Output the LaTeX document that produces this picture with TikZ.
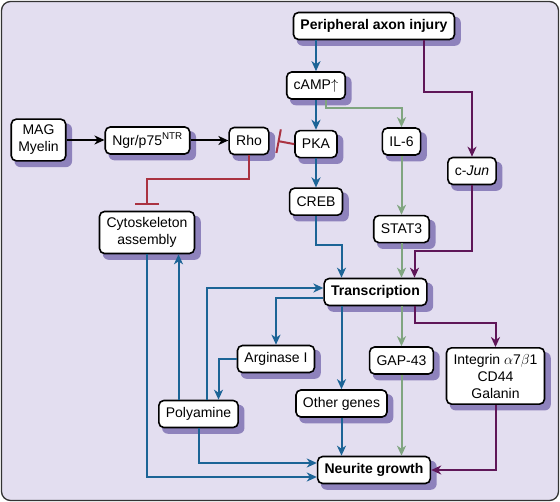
\documentclass[tikz,border=0pt]{standalone}
\usepackage{fontspec}
\setmainfont{Liberation Sans}
\usepackage{tikz}
\usetikzlibrary{arrows.meta,positioning,backgrounds}
\definecolor{panel}{RGB}{227,222,240}
\definecolor{boxshadow}{RGB}{142,130,188}
\definecolor{cablue}{RGB}{28,100,150}
\definecolor{sage}{RGB}{128,165,128}
\definecolor{plum}{RGB}{95,22,88}
\definecolor{inhib}{RGB}{170,50,65}

\begin{document}
\begin{tikzpicture}[x=1pt, y=1pt, >={Stealth[length=10pt,width=9pt,inset=3pt]},
  box/.style={draw, line width=1.6pt, rounded corners=5pt, fill=white, align=center, inner xsep=7pt, inner ysep=6pt, minimum height=27pt, font=\fontsize{14}{17}\selectfont},
  head/.style={box, font=\fontsize{14}{17}\selectfont\bfseries},
  link/.style={line width=2pt}]
\useasboundingbox (0,0) rectangle (560,-502);

\node[head] (inj) at (374,-26) {Peripheral axon injury};
\node[box] (camp) at (316,-85.5) {cAMP$\uparrow$};
\node[box, below=30pt of camp] (pka) {PKA};
\node[box, below=29pt of pka] (creb) {CREB};
\node[box] (il6) at (401.5,-141.5) {IL-6};
\node[box, below=59pt of il6] (stat) {STAT3};
\node[box] (cjun) at (472,-171) {c-\textit{Jun}};
\node[box] (mag) at (38.5,-140) {MAG\\Myelin};
\node[box] (ngr) at (147.5,-140.5) {Ngr/p75\textsuperscript{NTR}};
\node[box] (rho) at (249,-141) {Rho};
\node[box] (cyto) at (147,-232.5) {Cytoskeleton\\assembly};
\node[head] (trans) at (375.5,-292) {Transcription};
\node[box] (arg) at (276,-359) {Arginase I};
\node[box] (gap) at (401.5,-360.5) {GAP-43};
\node[box] (integ) at (495.5,-376) {Integrin $\alpha$7$\beta$1\\CD44\\Galanin};
\node[box] (poly) at (198.5,-414) {Polyamine};
\node[box] (other) at (341.5,-403.5) {Other genes};
\node[head] (neur) at (374,-470) {Neurite growth};

\begin{scope}[on background layer]
\draw[rounded corners=9pt, fill=panel, draw=black!80, line width=1.3pt] (1.5,-1.5) rectangle (558.5,-500.5);
\foreach \n in {inj,camp,pka,creb,il6,stat,cjun,mag,ngr,rho,cyto,trans,arg,gap,integ,poly,other,neur}
  \fill[boxshadow, rounded corners=6pt] ([shift={(4pt,-5.5pt)}]\n.south west) rectangle ([shift={(5.5pt,-5pt)}]\n.north east);
\end{scope}

\draw[link, cablue, ->] (inj.south -| camp.north) -- (camp.north);
\draw[link, plum, ->] ([xshift=50pt]inj.south) -- ++(0,-52) -| (cjun.north);
\draw[link, cablue, ->] (camp) -- (pka);
\draw[link, sage, ->] ([xshift=10pt]camp.south) -- ++(0,-8) -| (il6.north);
\draw[link, inhib, -{Bar[width=24pt]}] (pka.west) -- ([xshift=8pt]rho.east);
\draw[link, inhib, -{Bar[width=24pt]}] (rho.south) -- ++(0,-24) -| ([yshift=6pt]cyto.north);
\draw[link, ->] (mag.east) -- (mag.east -| ngr.west);
\draw[link, ->] (ngr.east) -- (ngr.east -| rho.west);
\draw[link, cablue, ->] (pka) -- (creb);
\draw[link, cablue, ->] (creb.south) -- ++(0,-29) -| (trans.north -| other.north);
\draw[link, sage, ->] (il6) -- (stat);
\draw[link, sage, ->] (stat.south) -- (stat.south |- trans.north);
\draw[link, plum, ->] (cjun.south) -- ++(0,-66) -| ([xshift=39pt]trans.north);
\draw[link, cablue, ->] ([yshift=-6pt]trans.west) -| (arg.north);
\draw[link, cablue, ->] (arg.west) -| ([xshift=20pt]poly.north);
\draw[link, cablue, ->] ([xshift=8pt]poly.north) |- ([yshift=4pt]trans.west);
\draw[link, cablue, ->] ([xshift=-20pt]poly.north) -- ([xshift=-20pt]poly.north |- cyto.south);
\draw[link, cablue, ->] (cyto.south) |- ([yshift=-7pt]neur.west);
\draw[link, cablue, ->] (poly.south) |- ([yshift=7pt]neur.west);
\draw[link, cablue, ->] (trans.south -| other.north) -- (other.north);
\draw[link, cablue, ->] (other.south) -- (other.south |- neur.north);
\draw[link, sage, ->] (trans.south -| gap.north) -- (gap.north);
\draw[link, sage, ->] (gap.south) -- (gap.south |- neur.north);
\draw[link, plum, ->] ([xshift=39pt]trans.south) -- ++(0,-17) -| (integ.north);
\draw[link, plum, ->] (integ.south) |- (neur.east);
\end{tikzpicture}
\end{document}
